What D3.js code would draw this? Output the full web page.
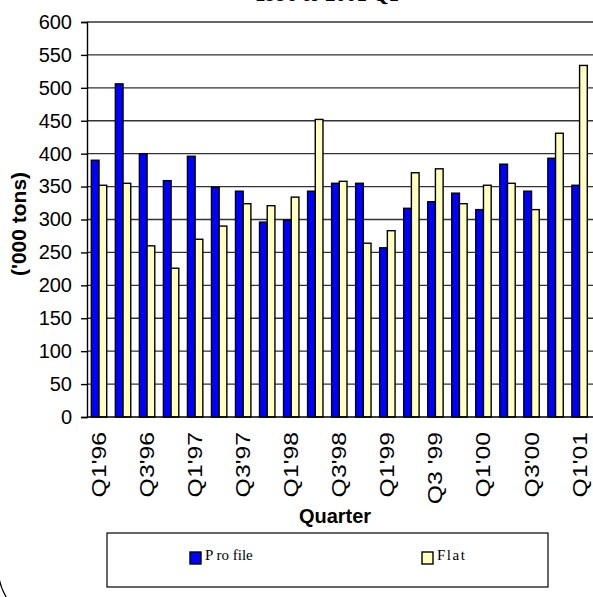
<!DOCTYPE html>
<meta charset="utf-8">
<style>
html,
body {
    margin: 0;
    padding: 0;
    overflow: hidden;
    background: #fff;
}

svg {
    display: block;
}

.tick text {
    font-family: Arial, "Liberation Sans", sans-serif;
    font-size: 20px;
    fill: #000;
}

.legend text {
    font-family: "Times New Roman", "Liberation Serif", serif;
    font-size: 15px;
}
</style>
<svg width="593" height="597"></svg>
<script src="https://d3js.org/d3.v7.min.js"></script>
<script>
var quarters = ["Q1'96", "Q2'96", "Q3'96", "Q4'96", "Q1'97", "Q2'97", "Q3'97", "Q4'97",
    "Q1'98", "Q2'98", "Q3'98", "Q4'98", "Q1'99", "Q2'99", "Q3 '99", "Q4'99",
    "Q1'00", "Q2'00", "Q3'00", "Q4'00", "Q1'01"];
var profile = [390, 506, 400, 359, 396, 349, 343, 296, 299, 343, 355,
    355, 257, 317, 327, 340, 315, 384, 343, 393, 352];
var flat = [352, 355, 260, 226, 270, 290, 324, 321, 334, 452, 358,
    264, 283, 371, 377, 324, 352, 355, 315, 431, 534];
var yTicks = [0, 50, 100, 150, 200, 250, 300, 350, 400, 450, 500, 550, 600];
var seriesNames = ["Profile", "Flat"];
var legendLabels = ["P ro file", "Flat"];
var colors = ["#0000ff", "#ffffc0"];

var svg = d3.select("svg");
var width = 593;

var plotLeft = 87, plotTop = 22, plotBottom = 417, plotRight = 591.6;

var x = d3.scaleBand()
    .domain(quarters)
    .range([plotLeft, plotRight])
    .padding(0);

var xInner = d3.scaleBand()
    .domain(seriesNames)
    .range([0, x.bandwidth()])
    .paddingInner(0)
    .paddingOuter(0.56);

var y = d3.scaleLinear()
    .domain([0, 600])
    .range([plotBottom, plotTop]);

var rows = quarters.map(function(q, i) {
    return {q: q, values: [profile[i], flat[i]]};
});

// title, mostly cut off by the top edge
svg.append("text")
    .attr("x", 327)
    .attr("y", 1)
    .attr("text-anchor", "middle")
    .style("font-family", "'Times New Roman', 'Liberation Serif', serif")
    .style("font-weight", "bold")
    .style("font-size", "21px")
    .text("1996 to 2001 Q1");

// gridlines
svg.append("g")
    .selectAll("line")
    .data(yTicks.filter(function(d) { return d > 0; }))
    .enter().append("line")
    .attr("x1", plotLeft)
    .attr("x2", width)
    .attr("y1", function(d) { return y(d); })
    .attr("y2", function(d) { return y(d); })
    .attr("stroke", "#333")
    .attr("stroke-width", 1.4);

// bars
var groups = svg.append("g")
    .selectAll("g")
    .data(rows)
    .enter().append("g")
    .attr("transform", function(d) { return "translate(" + x(d.q) + ",0)"; });

groups.selectAll("rect")
    .data(function(d) {
        return d.values.map(function(v, i) { return {name: seriesNames[i], value: v, i: i}; });
    })
    .enter().append("rect")
    .attr("x", function(d) { return xInner(d.name); })
    .attr("width", xInner.bandwidth())
    .attr("y", function(d) { return y(d.value); })
    .attr("height", function(d) { return y(0) - y(d.value); })
    .attr("fill", function(d) { return colors[d.i]; })
    .attr("stroke", "#000")
    .attr("stroke-width", 1.4);

// y axis
var yAxis = svg.append("g")
    .attr("transform", "translate(" + plotLeft + ",0)")
    .call(d3.axisLeft(y).tickValues(yTicks).tickSize(6).tickPadding(9));
yAxis.select(".domain").attr("stroke", "#000").attr("stroke-width", 1.4);
yAxis.selectAll(".tick line").attr("stroke", "#000").attr("stroke-width", 1.4);

// x axis baseline
svg.append("line")
    .attr("x1", plotLeft)
    .attr("x2", width)
    .attr("y1", y(0))
    .attr("y2", y(0))
    .attr("stroke", "#000")
    .attr("stroke-width", 1.6);

// x labels, every other quarter
svg.append("g")
    .attr("class", "tick")
    .selectAll("text")
    .data(quarters.filter(function(d, i) { return i % 2 === 0; }))
    .enter().append("text")
    .attr("transform", function(d) {
        return "translate(" + (x(d) + x.bandwidth() / 2) + ",432) rotate(-90) scale(1.24,1)";
    })
    .attr("text-anchor", "end")
    .attr("dy", "0.35em")
    .text(function(d) { return d; });

// axis titles
svg.append("text")
    .attr("transform", "translate(19,224) rotate(-90)")
    .attr("text-anchor", "middle")
    .attr("dy", "0.35em")
    .style("font-family", "Arial, 'Liberation Sans', sans-serif")
    .style("font-weight", "bold")
    .style("font-size", "21px")
    .text("('000 tons)");

svg.append("text")
    .attr("x", 335)
    .attr("y", 523)
    .attr("text-anchor", "middle")
    .style("font-family", "Arial, 'Liberation Sans', sans-serif")
    .style("font-weight", "bold")
    .style("font-size", "20px")
    .text("Quarter");

// legend
var legend = svg.append("g").attr("class", "legend");
legend.append("rect")
    .attr("x", 107)
    .attr("y", 533)
    .attr("width", 441)
    .attr("height", 54)
    .attr("fill", "#fff")
    .attr("stroke", "#000")
    .attr("stroke-width", 1.2);

var legendX = [190, 422];
var items = legend.selectAll("g.item")
    .data(seriesNames)
    .enter().append("g")
    .attr("class", "item")
    .attr("transform", function(d, i) { return "translate(" + legendX[i] + ",552)"; });

items.append("rect")
    .attr("width", 11)
    .attr("height", 12)
    .attr("fill", function(d, i) { return colors[i]; })
    .attr("stroke", "#000")
    .attr("stroke-width", 1.4);

items.append("text")
    .attr("x", 15)
    .attr("y", 8)
    .style("letter-spacing", function(d, i) { return i === 1 ? "1.5px" : null; })
    .text(function(d, i) { return legendLabels[i]; });

// rounded corner of the chart area border
svg.append("rect")
    .attr("x", -2)
    .attr("y", -100)
    .attr("width", 700)
    .attr("height", 726.6)
    .attr("rx", 60)
    .attr("fill", "none")
    .attr("stroke", "#000")
    .attr("stroke-width", 1.2);
</script>
